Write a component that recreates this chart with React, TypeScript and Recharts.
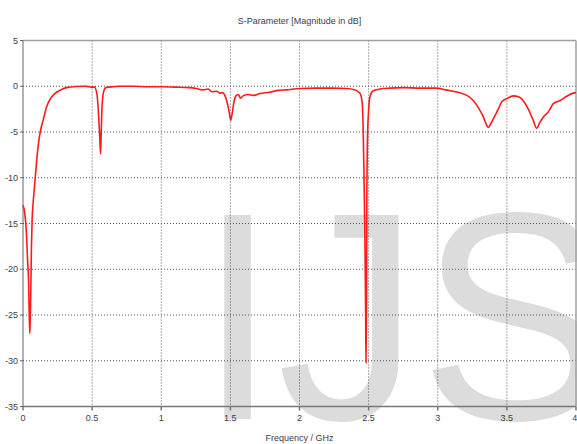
import React from 'react';
import { LineChart, Line, XAxis, YAxis, CartesianGrid, ReferenceLine } from 'recharts';

// Frequency in GHz
const freq = [
  0.0, 0.013, 0.025, 0.033, 0.04, 0.044, 0.049, 0.051, 0.056, 0.061, 0.066, 0.073, 0.083, 0.093,
  0.109, 0.127, 0.146, 0.17, 0.194, 0.23, 0.266, 0.315, 0.387, 0.45, 0.48, 0.5, 0.517, 0.536,
  0.548, 0.555, 0.561, 0.565, 0.57, 0.58, 0.59, 0.6, 0.65, 0.7, 0.8, 0.9, 1.0, 1.1, 1.2, 1.255,
  1.3, 1.34, 1.364, 1.4, 1.424, 1.444, 1.46, 1.477, 1.491, 1.503, 1.513, 1.525, 1.54, 1.557,
  1.574, 1.592, 1.63, 1.665, 1.713, 1.786, 1.846, 1.9, 2.0, 2.12, 2.24, 2.34, 2.389, 2.425,
  2.442, 2.454, 2.461, 2.466, 2.473, 2.478, 2.481, 2.485, 2.487, 2.492, 2.5, 2.509, 2.533,
  2.582, 2.654, 2.75, 2.87, 2.99, 3.06, 3.11, 3.16, 3.21, 3.257, 3.29, 3.33, 3.354, 3.366,
  3.383, 3.414, 3.438, 3.463, 3.5, 3.547, 3.584, 3.62, 3.655, 3.69, 3.716, 3.735, 3.764, 3.8,
  3.836, 3.885, 3.933, 3.98, 4.0,
];

// S11 magnitude in dB
const s11 = [
  -13.0, -13.9, -16.1, -19.0, -21.2, -24.1, -27.0, -26.3, -22.7, -17.6, -14.6, -12.8, -11.0, -9.2,
  -6.6, -4.8, -3.7, -2.3, -1.45, -0.8, -0.45, -0.15, -0.03, 0.0, -0.05, -0.1, -0.1, -1.0,
  -3.5, -5.5, -7.4, -5.5, -2.8, -0.8, -0.3, -0.15, -0.05, 0.0, 0.0, -0.05, -0.05, -0.1, -0.15, -0.25,
  -0.4, -0.3, -0.6, -0.55, -0.75, -0.7, -1.0, -1.8, -2.8, -3.7, -3.0, -1.8, -1.05, -0.9,
  -1.3, -1.05, -0.9, -1.0, -0.8, -0.65, -0.45, -0.4, -0.25, -0.2, -0.2, -0.25, -0.35, -0.6,
  -0.9, -1.9, -5.1, -9.2, -16.5, -24.0, -30.2, -23.7, -12.8, -5.5, -2.6, -1.2, -0.5,
  -0.3, -0.2, -0.15, -0.2, -0.2, -0.4, -0.55, -0.7, -1.0, -1.55, -2.25, -3.35, -4.25, -4.5,
  -4.1, -3.2, -2.5, -1.7, -1.35, -1.05, -1.15, -1.6, -2.5, -3.7, -4.6, -4.05, -3.35, -2.8,
  -1.9, -1.55, -1.1, -0.75, -0.7,
];

const xTicks = [0, 0.5, 1, 1.5, 2, 2.5, 3, 3.5, 4];
const yTicks = [5, 0, -5, -10, -15, -20, -25, -30, -35];
const xGrid = [0.5, 1, 1.5, 2, 2.5, 3, 3.5];
const yGrid = [0, -5, -10, -15, -20, -25, -30];

const title = 'S-Parameter [Magnitude in dB]';
const xLabel = 'Frequency / GHz';
const watermark = 'IJS';

const data = freq.map((f, i) => ({ f, s: s11[i] }));

const FONT = '"Liberation Sans", Arial, sans-serif';
const TEXT = '#3a404c';

export default function App() {
  return (
    <div style={{ position: 'absolute', left: 0, top: 0, width: 577, height: 444, background: '#fff' }}>
      <svg width={577} height={444} style={{ position: 'absolute', left: 0, top: 0 }}>
        <g transform="translate(0,419) scale(1,1.04) translate(0,-419)">
          <text x={198} y={419} fontFamily={FONT} fontSize={285} fill="#dcdcdc">{watermark}</text>
        </g>
        <text x={299.5} y={24} textAnchor="middle" fontFamily={FONT} fontSize={9} fill={TEXT}>{title}</text>
        <text x={299.5} y={441} textAnchor="middle" fontFamily={FONT} fontSize={9} fill={TEXT}>{xLabel}</text>
      </svg>
      <div style={{ position: 'absolute', left: 0, top: 0 }}>
        <LineChart width={577} height={444} data={data} margin={{ top: 40.5, right: 1, left: 0, bottom: 0 }}>
          <CartesianGrid
            stroke="#555"
            strokeDasharray="1 2"
            horizontalValues={yGrid}
            verticalValues={xGrid}
          />
          <XAxis
            dataKey="f"
            type="number"
            domain={[0, 4]}
            ticks={xTicks}
            height={37.5}
            tickSize={4}
            tickMargin={4}
            stroke="#777"
            strokeWidth={1.5}
            tick={{ fontSize: 9, fontFamily: FONT, fill: TEXT }}
            tickFormatter={(v: number) => String(v)}
          />
          <YAxis
            type="number"
            domain={[-35, 5]}
            ticks={yTicks}
            width={23}
            tickSize={3}
            tickMargin={2}
            stroke="#666"
            tick={{ fontSize: 9, fontFamily: FONT, fill: TEXT }}
            tickFormatter={(v: number) => String(v)}
          />
          <ReferenceLine y={5} stroke="#a0a0a0" strokeWidth={1.5} />
          <ReferenceLine x={4} stroke="#a0a0a0" strokeWidth={1.5} />
          <Line
            dataKey="s"
            type="monotone"
            stroke="#ff1a1a"
            strokeWidth={1.6}
            dot={false}
            isAnimationActive={false}
          />
        </LineChart>
      </div>
    </div>
  );
}
